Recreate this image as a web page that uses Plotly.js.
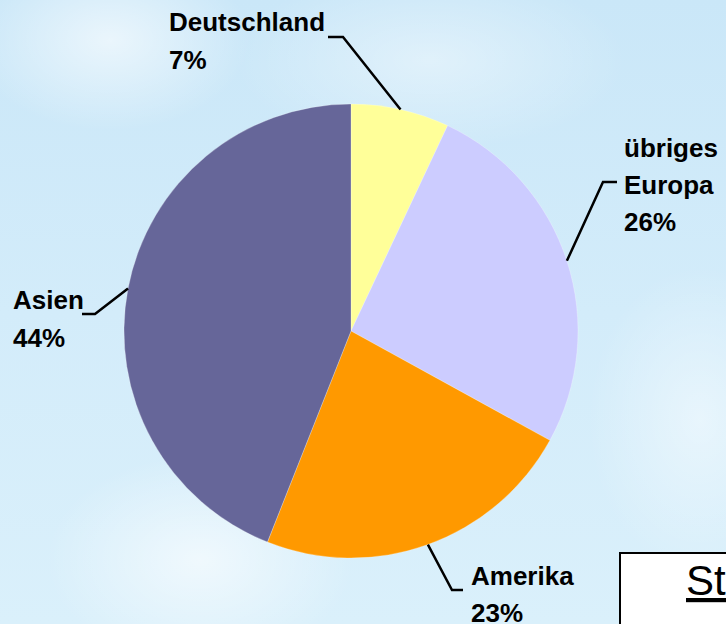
<!DOCTYPE html>
<html>
<head>
<meta charset="utf-8">
<script src="https://cdn.plot.ly/plotly-3.0.1.min.js"></script>
<style>
html,body{margin:0;padding:0;}
body{width:726px;height:624px;overflow:hidden;
background:
 radial-gradient(ellipse 200px 130px at 110px 40px, rgba(255,255,255,0.6), rgba(255,255,255,0) 70%),
 radial-gradient(ellipse 220px 150px at 200px 560px, rgba(255,255,255,0.6), rgba(255,255,255,0) 70%),
 radial-gradient(ellipse 160px 220px at 700px 420px, rgba(255,255,255,0.45), rgba(255,255,255,0) 70%),
 radial-gradient(ellipse 280px 130px at 430px 60px, rgba(255,255,255,0.4), rgba(255,255,255,0) 70%),
 linear-gradient(180deg, #cae7f8 0%, #d3ecfa 50%, #daf0fb 100%);}
#chart{width:726px;height:624px;}
</style>
</head>
<body>
<div id="chart"></div>
<script>
// Data
const categories = ["Deutschland", "übriges Europa", "Amerika", "Asien"];
const values = [7, 26, 23, 44];
const labelLines = [["Deutschland", "7%"], ["übriges", "Europa", "26%"], ["Amerika", "23%"], ["Asien", "44%"]];
const colors = ["#FFFF99", "#CCCCFF", "#FF9900", "#666699"];

// Layout constants (pixels)
const W = 726, H = 624;
const CX = 351, CY = 331, R = 227;
const px = x => x / W;
const py = y => 1 - y / H;

// label text positions: [left x, first line center y, line step]
const labelPos = [[167, 22, 38], [622, 148, 37], [469, 576, 37], [11, 300, 38]];
// leader elbow and end points
const leaderElbow = [[343, 37], [603, 182], [452, 590], [95, 314]];
const leaderEnd = [[328, 37], [617, 182], [463, 590], [82, 314]];

const total = values.reduce((a, b) => a + b, 0);
const annotations = [];
const shapes = [];
let cum = 0;
values.forEach((v, i) => {
  const mid = (cum + v / 2) / total;
  cum += v;
  const ang = mid * 2 * Math.PI;
  const ax = CX + R * Math.sin(ang);
  const ay = CY - R * Math.cos(ang);
  const [ex, ey] = leaderElbow[i];
  const [fx, fy] = leaderEnd[i];
  shapes.push({type: "path", xref: "paper", yref: "paper",
    path: `M ${px(ax)} ${py(ay)} L ${px(ex)} ${py(ey)} L ${px(fx)} ${py(fy)}`,
    line: {color: "#000", width: 2.5}});
  const [lx, ly, step] = labelPos[i];
  labelLines[i].forEach((t, k) => {
    annotations.push({xref: "paper", yref: "paper", x: px(lx), y: py(ly + k * step),
      xanchor: "left", yanchor: "middle", showarrow: false,
      text: "<b>" + t + "</b>",
      font: {family: "Liberation Sans, Arial, sans-serif", size: 26, color: "#000"}});
  });
});

// box in bottom-right corner
shapes.push({type: "rect", xref: "paper", yref: "paper",
  x0: px(620), x1: px(760), y0: py(553), y1: py(700),
  fillcolor: "#ffffff", line: {color: "#000", width: 2}, layer: "above"});
annotations.push({xref: "paper", yref: "paper", x: px(684), y: py(580), xanchor: "left", yanchor: "middle",
  showarrow: false, text: "<u>Stand</u>", font: {family: "Liberation Sans, Arial, sans-serif", size: 42, color: "#000"}});
annotations.push({xref: "paper", yref: "paper", x: px(684), y: py(640), xanchor: "left", yanchor: "middle",
  showarrow: false, text: "D", font: {family: "Liberation Sans, Arial, sans-serif", size: 42, color: "#000"}});

const trace = {
  type: "pie",
  labels: categories,
  values: values,
  sort: false,
  direction: "clockwise",
  rotation: 0,
  textinfo: "none",
  hoverinfo: "label+percent",
  marker: {colors: colors, line: {color: "rgba(255,255,255,0.5)", width: 0.5}},
  domain: {x: [px(CX - R), px(CX + R)], y: [py(CY + R), py(CY - R)]},
  showlegend: false
};

Plotly.newPlot("chart", [trace], {
  width: W, height: H,
  margin: {l: 0, r: 0, t: 0, b: 0},
  paper_bgcolor: "rgba(0,0,0,0)",
  plot_bgcolor: "rgba(0,0,0,0)",
  showlegend: false,
  annotations: annotations,
  shapes: shapes
}, {displayModeBar: false, staticPlot: true});
</script>
</body>
</html>
